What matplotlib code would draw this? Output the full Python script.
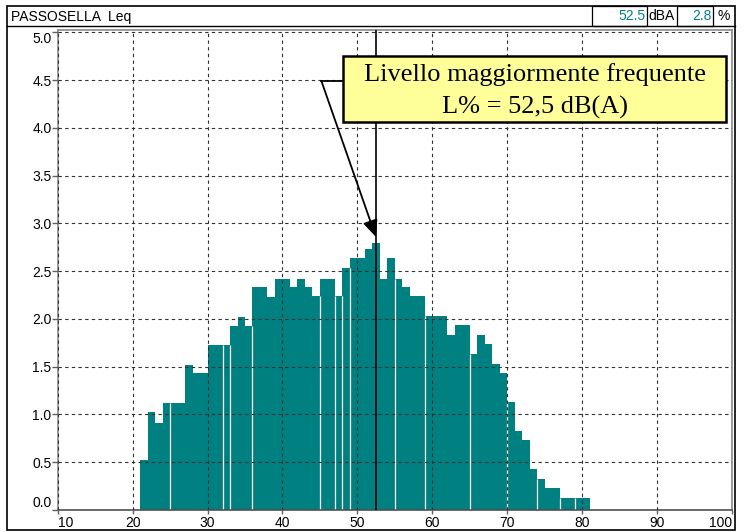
import matplotlib.pyplot as plt
from matplotlib.patches import Rectangle

# Leq level distribution, 1 dB classes (left edge of class in dB, % of time)
levels = list(range(21, 81))
percent = [0.52, 1.03, 0.91, 1.12, 1.12, 1.12, 1.52, 1.43, 1.43, 1.73,
           1.73, 1.73, 1.93, 2.02, 1.93, 2.33, 2.33, 2.23, 2.42, 2.42,
           2.33, 2.42, 2.33, 2.24, 2.42, 2.42, 2.24, 2.53, 2.64, 2.64,
           2.73, 2.80, 2.42, 2.64, 2.42, 2.33, 2.24, 2.24, 2.03, 2.03,
           2.03, 1.83, 1.94, 1.94, 1.63, 1.83, 1.74, 1.53, 1.43, 1.13,
           0.83, 0.73, 0.43, 0.32, 0.23, 0.23, 0.13, 0.13, 0.13, 0.13]
mode_level = 52.5
mode_pct = 2.8
title = 'PASSOSELLA  Leq'
note_lines = ['Livello maggiormente frequente', 'L% = 52,5 dB(A)']

# class borders where the analyser leaves a thin white seam
seams = [25, 32, 33, 36, 45, 47, 48, 49, 55, 59, 65, 70, 74, 77, 79]

W, H = 747, 532
TEAL = '#008080'
plt.rcParams['font.family'] = ['Liberation Sans', 'DejaVu Sans']

fig = plt.figure(figsize=(W / 100, H / 100), dpi=100)


def box(x0, y0, x1, y1, **kw):
    # rectangle given in pixels from the top-left corner
    r = Rectangle((x0 / W, 1 - y1 / H), (x1 - x0) / W, (y1 - y0) / H,
                  transform=fig.transFigure, **kw)
    fig.add_artist(r)
    return r


def ptext(x, y, s, **kw):
    return fig.text(x / W, 1 - y / H, s, **kw)


# outer frame and header strip
box(7, 6, 735, 530, fill=False, edgecolor='black', lw=1.2)
fig.add_artist(plt.Line2D([7 / W, 735 / W], [1 - 26 / H] * 2,
                          transform=fig.transFigure, color='black', lw=1.0))
ptext(11, 16.5, title, fontsize=10, va='center', ha='left')
box(592, 6, 647, 26, fill=False, edgecolor='black', lw=0.9)
box(677, 6, 713, 26, fill=False, edgecolor='black', lw=0.9)
ptext(646, 16.5, f'{mode_level:.1f}', fontsize=10, va='center', ha='right', color=TEAL)
ptext(648, 16.5, 'dBA', fontsize=10, va='center', ha='left')
ptext(712, 16.5, f'{mode_pct:.1f}', fontsize=10, va='center', ha='right', color=TEAL)
ptext(718, 16.5, '%', fontsize=10, va='center', ha='left')

ax = fig.add_axes([57.7 / W, 1 - 510 / H, (732 - 57.7) / W, (510 - 30) / H])
ax.bar(levels, percent, width=1.0, align='edge', color=TEAL, linewidth=0, zorder=1)

lookup = dict(zip(levels, percent))
for s in seams:
    top = min(lookup.get(s - 1, 0), lookup.get(s, 0))
    ax.vlines(s, 0, top, color='white', lw=0.9, zorder=1.5)

ax.set_xlim(10, 100)
ax.set_ylim(0, 5.025)
ax.set_axisbelow(False)
ax.grid(True, color='#303030', linestyle=(0, (3, 3)), linewidth=0.8)

xt = list(range(10, 101, 10))
yt = [i * 0.5 for i in range(11)]
ax.set_xticks(xt)
ax.set_yticks(yt)
ax.set_xticklabels([str(v) for v in xt], fontsize=10)
ax.set_yticklabels([f'{v:.1f}' for v in yt], fontsize=10)
ax.get_xticklabels()[0].set_ha('left')
ax.get_xticklabels()[-1].set_ha('right')
ax.get_yticklabels()[0].set_va('bottom')
ax.get_yticklabels()[-1].set_va('top')
ax.tick_params(axis='x', length=3, width=1, color='#606060', pad=1)
ax.tick_params(axis='y', length=4, width=1, color='#606060', pad=0.5)
for side in ['left', 'top', 'right']:
    ax.spines[side].set_color('#8a8a8a')
    ax.spines[side].set_linewidth(1.2)
ax.spines['bottom'].set_color('#505050')
ax.spines['bottom'].set_linewidth(1.2)

# most frequent level
ax.axvline(mode_level, color='black', lw=1.2, zorder=3)

# callout with yellow label
box(343, 56, 726, 122, facecolor='#ffff99', edgecolor='black', lw=1.8, zorder=5)
ptext(534.5, 75, note_lines[0], fontsize=19, family='Liberation Serif',
      ha='center', va='center', zorder=6)
ptext(534.5, 107, note_lines[1], fontsize=19, family='Liberation Serif',
      ha='center', va='center', zorder=6)
ax.plot([48.06, 45.2], [4.49, 4.49], color='black', lw=1.3, zorder=4, clip_on=False)
ax.annotate('', xy=(mode_level - 0.04, mode_pct + 0.06), xytext=(45.2, 4.49),
            arrowprops=dict(arrowstyle='-|>,head_length=1.0,head_width=0.45',
                            color='black', lw=1.3, shrinkA=0, shrinkB=0),
            zorder=4)

fig.savefig('out.png', dpi=100)
